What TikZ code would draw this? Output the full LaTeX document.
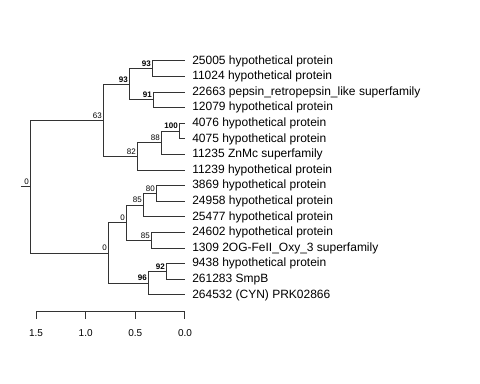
\documentclass[tikz,border=0pt]{standalone}
\usepackage{fontspec}
\setmainfont{Liberation Sans}
\usetikzlibrary{positioning}

\begin{document}
\begin{tikzpicture}[x=0.75pt, y=-0.75pt,
  br/.style={draw=black!80, line width=0.75pt},
  tip/.style={anchor=west, inner xsep=5.25pt, inner ysep=0pt,
    font=\fontsize{9}{10}\selectfont},
  boot/.style={anchor=south east, inner sep=1.5pt,
    font=\fontsize{6}{7}\selectfont},
  bootb/.style={boot, font=\fontsize{6}{7}\selectfont\bfseries},
  axl/.style={font=\fontsize{7.5}{9}\selectfont, inner sep=0pt},
]
\useasboundingbox (0,0) rectangle (480,384);
% tips
\node[tip] (t1) at (185,61.0) {25005 hypothetical protein};
\node[tip] (t2) at (185,76.6) {11024 hypothetical protein};
\node[tip] (t3) at (185,92.2) {22663 pepsin\_retropepsin\_like superfamily};
\node[tip] (t4) at (185,107.8) {12079 hypothetical protein};
\node[tip] (t5) at (185,123.4) {4076 hypothetical protein};
\node[tip] (t6) at (185,139.0) {4075 hypothetical protein};
\node[tip] (t7) at (185,154.6) {11235 ZnMc superfamily};
\node[tip] (t8) at (185,170.2) {11239 hypothetical protein};
\node[tip] (t9) at (185,185.8) {3869 hypothetical protein};
\node[tip] (t10) at (185,201.4) {24958 hypothetical protein};
\node[tip] (t11) at (185,217.0) {25477 hypothetical protein};
\node[tip] (t12) at (185,232.6) {24602 hypothetical protein};
\node[tip] (t13) at (185,248.2) {1309 2OG-FeII\_Oxy\_3 superfamily};
\node[tip] (t14) at (185,263.8) {9438 hypothetical protein};
\node[tip] (t15) at (185,279.4) {261283 SmpB};
\node[tip] (t16) at (185,295.0) {264532 (CYN) PRK02866};
% inner nodes
\coordinate (stub) at (21,186.8);
\coordinate (root) at (31,186.8);
\coordinate (g63) at (104,120.5);
\coordinate (c93) at (130,84.4);
\coordinate (a93) at (153,68.8);
\coordinate (b91) at (154,100.0);
\coordinate (f82) at (138,156.55);
\coordinate (e88) at (162,142.9);
\coordinate (d100) at (180,131.2);
\coordinate (n0) at (109,253.1);
\coordinate (k0) at (127,222.85);
\coordinate (i85) at (144,205.3);
\coordinate (h80) at (157,193.6);
\coordinate (j85) at (152,240.4);
\coordinate (m96) at (149,283.3);
\coordinate (l92) at (167,271.6);
% branches
\draw[br] (stub) -- (root);
\draw[br] (root) |- (g63);
\draw[br] (root) |- (n0);
\draw[br] (g63) |- (c93);
\draw[br] (g63) |- (f82);
\draw[br] (c93) |- (a93);
\draw[br] (c93) |- (b91);
\draw[br] (a93) |- (t1.west);
\draw[br] (a93) |- (t2.west);
\draw[br] (b91) |- (t3.west);
\draw[br] (b91) |- (t4.west);
\draw[br] (f82) |- (e88);
\draw[br] (f82) |- (t8.west);
\draw[br] (e88) |- (d100);
\draw[br] (e88) |- (t7.west);
\draw[br] (d100) |- (t5.west);
\draw[br] (d100) |- (t6.west);
\draw[br] (n0) |- (k0);
\draw[br] (n0) |- (m96);
\draw[br] (k0) |- (i85);
\draw[br] (k0) |- (j85);
\draw[br] (i85) |- (h80);
\draw[br] (i85) |- (t11.west);
\draw[br] (h80) |- (t9.west);
\draw[br] (h80) |- (t10.west);
\draw[br] (j85) |- (t12.west);
\draw[br] (j85) |- (t13.west);
\draw[br] (m96) |- (l92);
\draw[br] (m96) |- (t16.west);
\draw[br] (l92) |- (t14.west);
\draw[br] (l92) |- (t15.west);
% support values
\node[boot] (sroot) at (root) {0};
\node[boot] (s63) at (g63) {63};
\node[bootb] (s93a) at (c93) {93};
\node[bootb] (s93b) at (a93) {93};
\node[bootb] (s91) at (b91) {91};
\node[boot] (s82) at (f82) {82};
\node[boot] (s88) at (e88) {88};
\node[bootb] (s100) at (d100) {100};
\node[boot] (sn0) at (n0) {0};
\node[boot] (sk0) at (k0) {0};
\node[boot] (s85a) at (i85) {85};
\node[boot] (s80) at (h80) {80};
\node[boot] (s85b) at (j85) {85};
\node[bootb] (s96) at (m96) {96};
\node[bootb] (s92) at (l92) {92};
% scale
\draw[br] (36.05,312) -- (185,312);
\foreach \x/\v [count=\i] in {36.05/1.5, 85.7/1.0, 135.35/0.5, 185/0.0} {
  \draw[br] (\x,312) -- (\x,319);
  \node[axl] (ax\i) at (\x,333) {\v};
}
\end{tikzpicture}
\end{document}
